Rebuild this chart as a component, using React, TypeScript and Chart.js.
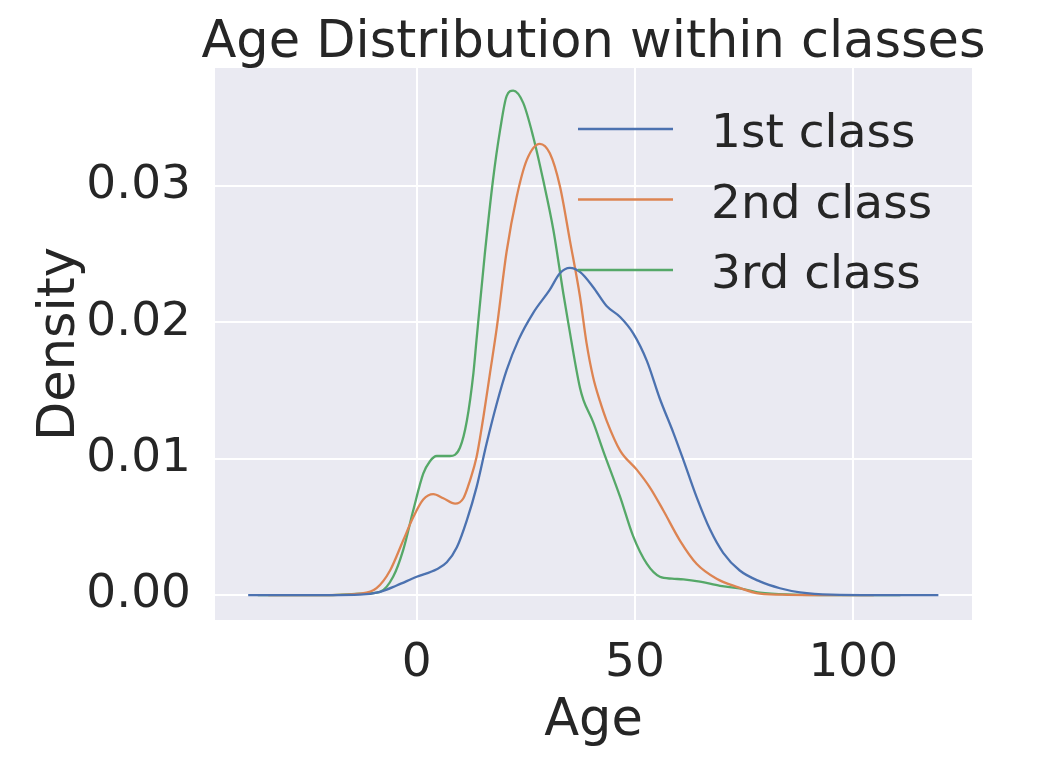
import React, { useEffect, useRef } from 'react';
import { Chart, registerables } from 'chart.js';

Chart.register(...registerables);

const TITLE = 'Age Distribution within classes';
const X_LABEL = 'Age';
const Y_LABEL = 'Density';
const SERIES_NAMES = ['1st class', '2nd class', '3rd class'];
const COLORS = ['#4C72B0', '#DD8452', '#55A868'];
const X_TICKS = [0, 50, 100];
const Y_TICKS = [0, 0.01, 0.02, 0.03];
const X_RANGE = [-46.2, 127.2];
const Y_RANGE = [-0.00183, 0.03866];

const AGE_1 = [-38.6, -20, -13, -8.4, -4.6, 0, 4.6, 6.9, 9.2, 11.5, 13.7, 16.0, 18.3, 20.6, 23.3, 26.7, 30.5, 32.8, 35.1, 37.4, 40.4, 43.5, 46.6, 49.6, 52.7, 55.7, 58.8, 61.1, 64.1, 67.2, 70.2, 74.0, 78.6, 83.2, 87.8, 95, 105, 119.5];
const DENS_1 = [0, 0, 0.00003, 0.00024, 0.0007, 0.00134, 0.0019, 0.0024, 0.0035, 0.0055, 0.0079, 0.0111, 0.0140, 0.0165, 0.0187, 0.0207, 0.0224, 0.0236, 0.0240, 0.0237, 0.0226, 0.0212, 0.0204, 0.0192, 0.0172, 0.0144, 0.0119, 0.0099, 0.0072, 0.0048, 0.0031, 0.0018, 0.0010, 0.0005, 0.0002, 0.00003, 0, 0];

const AGE_2 = [-34, -20, -13, -9.2, -6.1, -3.1, -0.8, 1.5, 3.8, 6.1, 8.8, 10.7, 12.2, 13.7, 15.3, 16.8, 18.3, 20.6, 22.9, 25.2, 28.2, 30.5, 32.8, 35.1, 37.4, 38.9, 40.4, 42.0, 43.5, 46.6, 50.4, 53.4, 56.5, 60.3, 64.1, 68.7, 73.3, 78.6, 85, 95, 104.7];
const DENS_2 = [0, 0, 0.0001, 0.0005, 0.0018, 0.0040, 0.0057, 0.0070, 0.0074, 0.0071, 0.0067, 0.0071, 0.0084, 0.0101, 0.0131, 0.0163, 0.0195, 0.0252, 0.0292, 0.0319, 0.0331, 0.0324, 0.0300, 0.0260, 0.0219, 0.0185, 0.0160, 0.0142, 0.0128, 0.0106, 0.0092, 0.0079, 0.0062, 0.0040, 0.0023, 0.0012, 0.0006, 0.0001, 0.00002, 0, 0];

const AGE_3 = [-36.4, -20, -12.9, -8.4, -5.4, -3.1, -0.8, 1.5, 3.0, 4.6, 7.6, 9.9, 11.5, 13.0, 13.7, 15.6, 17.5, 19.1, 20.6, 22.1, 24.4, 26.7, 29.0, 31.3, 33.6, 34.7, 37.4, 38.2, 40.4, 42.7, 46.6, 49.6, 52.7, 55.7, 58.5, 61.1, 64.9, 69.5, 74.0, 78.6, 86.3, 95, 110.8];
const DENS_3 = [0, 0, 0.0001, 0.00024, 0.00134, 0.0033, 0.0062, 0.0089, 0.0098, 0.0102, 0.0102, 0.0108, 0.0128, 0.0163, 0.0187, 0.0250, 0.0305, 0.0341, 0.0366, 0.0370, 0.0361, 0.0336, 0.0304, 0.0268, 0.0221, 0.0200, 0.0152, 0.0143, 0.0127, 0.0106, 0.0072, 0.0043, 0.0023, 0.00134, 0.0012, 0.00115, 0.00098, 0.00068, 0.00049, 0.00017, 0.00003, 0, 0];

const AGES = [AGE_1, AGE_2, AGE_3];
const DENSITIES = [DENS_1, DENS_2, DENS_3];

const FONT = '"DejaVu Sans", sans-serif';
const TEXT_COLOR = '#262626';

const bgPlugin = {
  id: 'plotBg',
  beforeDraw(chart: any) {
    const { ctx, chartArea } = chart;
    ctx.save();
    ctx.fillStyle = '#ffffff';
    ctx.fillRect(0, 0, chart.width, chart.height);
    ctx.fillStyle = '#EAEAF2';
    ctx.fillRect(chartArea.left, chartArea.top, chartArea.right - chartArea.left, chartArea.bottom - chartArea.top);
    ctx.restore();
  },
};

const titlePlugin = {
  id: 'plotTitle',
  afterDraw(chart: any) {
    const { ctx, chartArea } = chart;
    ctx.save();
    ctx.fillStyle = TEXT_COLOR;
    ctx.font = `51px ${FONT}`;
    ctx.textAlign = 'center';
    ctx.textBaseline = 'alphabetic';
    ctx.fillText(TITLE, (chartArea.left + chartArea.right) / 2, chartArea.top - 11);
    ctx.restore();
  },
};

const legendPlugin = {
  id: 'insideLegend',
  afterDatasetsDraw(chart: any) {
    const { ctx, chartArea } = chart;
    chart.data.datasets.forEach((ds: any, i: number) => {
      const y = chartArea.top + 61 + i * 70.5;
      const x0 = chartArea.right - 394;
      ctx.save();
      ctx.strokeStyle = ds.borderColor;
      ctx.lineWidth = 2.3;
      ctx.beginPath();
      ctx.moveTo(x0, y);
      ctx.lineTo(x0 + 95, y);
      ctx.stroke();
      ctx.fillStyle = TEXT_COLOR;
      ctx.font = `47px ${FONT}`;
      ctx.textBaseline = 'alphabetic';
      ctx.textAlign = 'left';
      ctx.fillText(ds.label, x0 + 133, y + 18);
      ctx.restore();
    });
  },
};

export default function App() {
  const ref = useRef<HTMLCanvasElement | null>(null);

  useEffect(() => {
    document.body.style.margin = '0';
    const canvas = ref.current;
    if (!canvas) return;
    const datasets = SERIES_NAMES.map((name, i) => ({
      label: name,
      data: AGES[i].map((a, j) => ({ x: a, y: DENSITIES[i][j] })),
      borderColor: COLORS[i],
      backgroundColor: COLORS[i],
      borderWidth: 2.3,
      pointRadius: 0,
      cubicInterpolationMode: 'monotone' as const,
      fill: false,
    }));
    const chart = new Chart(canvas, {
      type: 'line',
      data: { datasets },
      plugins: [bgPlugin, legendPlugin, titlePlugin],
      options: {
        animation: false,
        responsive: false,
        devicePixelRatio: 1,
        layout: { padding: { left: 0, right: 80, top: 68, bottom: 0 } },
        plugins: {
          legend: { display: false },
          tooltip: { enabled: false },
          title: { display: false },
        },
        scales: {
          x: {
            type: 'linear',
            min: X_RANGE[0],
            max: X_RANGE[1],
            afterBuildTicks: (axis: any) => {
              axis.ticks = X_TICKS.map((v) => ({ value: v }));
            },
            afterFit: (s: any) => {
              s.height = 152;
            },
            ticks: {
              color: TEXT_COLOR,
              font: { family: FONT, size: 47 },
              padding: 15.5,
              maxRotation: 0,
              callback: (v: any) => String(v),
            },
            grid: { color: '#ffffff', lineWidth: 2, drawTicks: false },
            border: { display: false },
            title: {
              display: true,
              text: X_LABEL,
              color: TEXT_COLOR,
              font: { family: FONT, size: 51, lineHeight: 1.2 },
              padding: { top: 0, bottom: 20 },
            },
          },
          y: {
            type: 'linear',
            min: Y_RANGE[0],
            max: Y_RANGE[1],
            afterBuildTicks: (axis: any) => {
              axis.ticks = Y_TICKS.map((v) => ({ value: v }));
            },
            afterFit: (s: any) => {
              s.width = 215;
            },
            ticks: {
              color: TEXT_COLOR,
              font: { family: FONT, size: 47 },
              padding: 24,
              callback: (v: any) => Number(v).toFixed(2),
            },
            grid: { color: '#ffffff', lineWidth: 2, drawTicks: false },
            border: { display: false },
            title: {
              display: true,
              text: Y_LABEL,
              color: TEXT_COLOR,
              font: { family: FONT, size: 51, lineHeight: 1.2 },
              padding: { top: 30, bottom: 0 },
            },
          },
        },
      },
    });
    return () => chart.destroy();
  }, []);

  return <canvas ref={ref} width={1052} height={772} style={{ display: 'block' }} />;
}
